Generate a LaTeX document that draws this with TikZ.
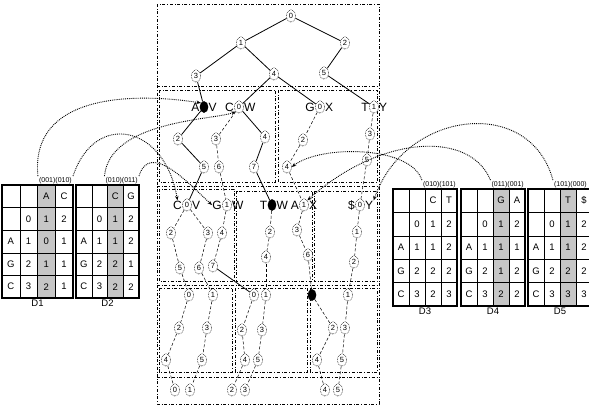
\documentclass[tikz,border=0pt]{standalone}
\usepackage{fontspec}
\setmainfont{Liberation Sans}
\usetikzlibrary{shapes.geometric,arrows.meta,positioning}

\tikzset{
  noeud/.style={ellipse, draw, densely dotted, line width=0.6pt, fill=white, inner sep=0pt,
    minimum width=9pt, minimum height=12.5pt, font=\fontsize{7.5}{7.5}\selectfont},
  noir/.style={noeud, solid, fill=black, minimum width=8pt, minimum height=11pt},
  lettre/.style={font=\fontsize{12}{12}\selectfont, inner sep=0.2pt},
  arete/.style={line width=0.8pt},
  aretep/.style={densely dashed, line width=0.5pt},
  bord/.style={dash dot, line width=0.7pt},
  lien/.style={densely dotted, line width=0.9pt, -{Stealth[length=4.5pt,width=3.5pt]}},
  cadre/.style={line width=1.8pt},
  fin/.style={line width=0.5pt},
  ombre/.style={fill=gray!45},
  case/.style={font=\fontsize{9.5}{9.5}\selectfont, inner sep=0pt},
  entete/.style={font=\fontsize{7}{7}\selectfont, anchor=south east, inner sep=1pt},
  pied/.style={font=\fontsize{9.5}{9.5}\selectfont, anchor=north, inner sep=1.5pt},
}

% tableau : nom, x, y, largeur, hauteur, ombre, en-tete, lignes
\newcommand{\grille}[8]{%
  \pgfmathsetmacro{\cw}{#4/4}%
  \pgfmathsetmacro{\rh}{#5/5}%
  \ifnum#6=1 \fill[ombre] ({#2+2*\cw},#3) rectangle ({#2+3*\cw},{#3+#5});\fi
  \foreach \k in {1,2,3} \draw[fin] ({#2+\k*\cw},#3) -- ({#2+\k*\cw},{#3+#5});
  \foreach \k in {1,...,4} \draw[fin] (#2,{#3+\k*\rh}) -- ({#2+#4},{#3+\k*\rh});
  \draw[cadre] (#2,#3) rectangle ({#2+#4},{#3+#5});
  \foreach \rg/\ua/\ub/\uc/\ud in {#8} {
    \foreach \v [count=\j] in {\ua,\ub,\uc,\ud}
      \node[case] (#1-\rg-\j) at ({#2+(\j-0.5)*\cw},{#3+(\rg-0.5)*\rh}) {\v};
  }
  \node[entete] (#1-h) at ({min(#2+#4,588)},#3) {#7};
  \node[pied] (#1-n) at ({#2+#4/2},{#3+#5}) {#1};
}

\begin{document}
\begin{tikzpicture}[x=1pt,y=-1pt]
\useasboundingbox (0,0) rectangle (589,410);

% Cadres
\draw[bord] (157,4) rectangle (379,404);
\draw[bord] (157,86) -- (379,86);
\draw[bord] (159,90) rectangle (275,182);
\draw[bord] (278,90) rectangle (377,182);
\draw[bord] (157,186) -- (379,186);
\draw[bord] (159,189) rectangle (234,281);
\draw[bord] (236,191) rectangle (312,281);
\draw[bord] (314,191) rectangle (377,281);
\draw[bord] (157,285) -- (379,285);
\draw[bord] (159,288) rectangle (232,372);
\draw[bord] (235,288) rectangle (307,372);
\draw[bord] (310,288) rectangle (377,372);
\draw[bord] (157,377) -- (379,377);

% Niveau 1
\node[noeud] (n0) at (291,16) {0};
\node[noeud] (n1) at (241,43) {1};
\node[noeud] (n2) at (345,43) {2};
\node[noeud] (n3) at (196,76) {3};
\node[noeud] (n4) at (274,74) {4};
\node[noeud] (n5) at (324,73) {5};

% Niveau 2
\node[noir] (bA) at (204,107) {};
\node[lettre, left=0pt of bA] (bAg) {A};
\node[lettre, right=0pt of bA] (bAd) {V};
\node[noeud] (bA1) at (178,139) {2};
\node[noeud] (bA2) at (204,167) {5};
\node[noeud] (bC) at (239,107) {0};
\node[lettre, left=0pt of bC] (bCg) {C};
\node[lettre, right=0pt of bC] (bCd) {W};
\node[noeud] (bC1) at (216,139) {3};
\node[noeud] (bC2) at (219,167) {6};
\node[noeud] (bC3) at (265,137) {4};
\node[noeud] (bC4) at (254,167) {7};
\node[noeud] (bG) at (320,107) {0};
\node[lettre, left=0pt of bG] (bGg) {G};
\node[lettre, right=0pt of bG] (bGd) {X};
\node[noeud] (bG1) at (303,140) {2};
\node[noeud] (bG2) at (287,167) {4};
\node[noeud] (bT) at (374,107) {1};
\node[lettre, left=0pt of bT] (bTg) {T};
\node[lettre, right=0pt of bT] (bTd) {Y};
\node[noeud] (bT1) at (370,134) {3};
\node[noeud] (bT2) at (367,160) {5};

% Niveau 3
\node[noeud] (cC) at (187,205) {0};
\node[lettre, left=0pt of cC] (cCg) {C};
\node[lettre, right=0pt of cC] (cCd) {V};
\node[noeud] (cC1) at (171,233) {2};
\node[noeud] (cC2) at (180,268) {5};
\node[noeud] (cC3) at (208,233) {3};
\node[noeud] (cC4) at (199,268) {6};
\node[noeud] (cG) at (227,205) {1};
\node[lettre, left=0pt of cG] (cGg) {G};
\node[lettre, right=0pt of cG] (cGd) {W};
\node[noeud] (cG1) at (222,233) {4};
\node[noeud] (cG2) at (213,266) {7};
\node[noir] (cT) at (272,205) {};
\node[lettre, left=0pt of cT] (cTg) {T};
\node[lettre, right=0pt of cT] (cTd) {W};
\node[noeud] (cT1) at (270,232) {2};
\node[noeud] (cT2) at (266,257) {4};
\node[noeud] (cA) at (304,205) {1};
\node[lettre, left=0pt of cA] (cAg) {A};
\node[lettre, right=0pt of cA] (cAd) {X};
\node[noeud] (cA1) at (297,230) {3};
\node[noeud] (cA2) at (308,255) {6};
\node[noeud] (cS) at (360,205) {0};
\node[lettre, left=0pt of cS] (cSg) {\$};
\node[lettre, right=0pt of cS] (cSd) {Y};
\node[noeud] (cS1) at (357,232) {1};
\node[noeud] (cS2) at (354,262) {2};

% Niveau 4
\node[noeud] (dL0) at (189,295) {0};
\node[noeud] (dL1) at (213,295) {1};
\node[noeud] (dL2) at (179,328) {2};
\node[noeud] (dL3) at (207,328) {3};
\node[noeud] (dL4) at (166,360) {4};
\node[noeud] (dL5) at (202,360) {5};
\node[noeud] (dM0) at (254,295) {0};
\node[noeud] (dM1) at (266,295) {1};
\node[noeud] (dM2) at (242,330) {2};
\node[noeud] (dM3) at (262,330) {3};
\node[noeud] (dM4) at (245,360) {4};
\node[noeud] (dM5) at (258,360) {5};
\node[noir] (dR0) at (312,295) {};
\node[noeud] (dR1) at (348,295) {1};
\node[noeud] (dR2) at (333,328) {2};
\node[noeud] (dR3) at (345,328) {3};
\node[noeud] (dR4) at (317,360) {4};
\node[noeud] (dR5) at (342,360) {5};

% Feuilles
\node[noeud] (e0) at (175,390) {0};
\node[noeud] (e1) at (190,390) {1};
\node[noeud] (e2) at (232,390) {2};
\node[noeud] (e3) at (245,390) {3};
\node[noeud] (e4) at (325,390) {4};
\node[noeud] (e5) at (338,390) {5};

% Aretes
\draw[arete] (n0) -- (n1);
\draw[arete] (n0) -- (n2);
\draw[arete] (n1) -- (n3);
\draw[arete] (n1) -- (n4);
\draw[arete] (n2) -- (n5);
\draw[arete] (n3) -- (bA);
\draw[arete] (n4) -- (bC);
\draw[arete] (n4) -- (bG);
\draw[arete] (n5) -- (bT);

\draw[arete] (bA) -- (bA1) -- (bA2);
\draw[aretep] (bC) -- (bC1) -- (bC2);
\draw[arete] (bC) -- (bC3) -- (bC4);
\draw[aretep] (bG) -- (bG1) -- (bG2);
\draw[aretep] (bT) -- (bT1) -- (bT2);

\draw[arete] (bA2) -- (cC);
\draw[aretep] (bC2) -- (cG);
\draw[arete] (bC4) -- (cT);
\draw[aretep] (bG2) -- (cA);
\draw[aretep] (bT2) -- (cS);

\draw[aretep] (cC) -- (cC1) -- (cC2);
\draw[aretep] (cC) -- (cC3) -- (cC4);
\draw[aretep] (cG) -- (cG1) -- (cG2);
\draw[aretep] (cT) -- (cT1) -- (cT2);
\draw[aretep] (cA) -- (cA1) -- (cA2);
\draw[aretep] (cS) -- (cS1) -- (cS2);

\draw[aretep] (cC2) -- (dL0);
\draw[aretep] (cC4) -- (dL1);
\draw[arete] (cG2) -- (dM0);
\draw[aretep] (cT2) -- (dM1);
\draw[aretep] (cA2) -- (dR0);
\draw[aretep] (cS2) -- (dR1);

\draw[aretep] (dL0) -- (dL2) -- (dL4) -- (e0);
\draw[aretep] (dL1) -- (dL3) -- (dL5) -- (e1);
\draw[aretep] (dM0) -- (dM2) -- (dM4) -- (e2);
\draw[aretep] (dM1) -- (dM3) -- (dM5) -- (e3);
\draw[aretep] (dR0) -- (dR2) -- (dR4) -- (e4);
\draw[aretep] (dR1) -- (dR3) -- (dR5) -- (e5);

% Tableaux
\grille{D1}{2}{185}{71}{113}{1}{(001)(010)}{1/{}/{}/A/C,2/{}/0/1/2,3/A/1/0/1,4/G/2/1/1,5/C/3/2/1}
\grille{D2}{76}{185}{63}{113}{1}{(010)(011)}{1/{}/{}/C/G,2/{}/0/1/2,3/A/1/1/2,4/G/2/2/1,5/C/3/2/2}
\grille{D3}{393}{189}{64}{117}{0}{(010)(101)}{1/{}/{}/C/T,2/{}/0/1/2,3/A/1/1/2,4/G/2/2/2,5/C/3/2/3}
\grille{D4}{461}{189}{64}{117}{1}{(011)(001)}{1/{}/{}/G/A,2/{}/0/1/2,3/A/1/1/1,4/G/2/1/2,5/C/3/2/2}
\grille{D5}{528}{189}{64}{117}{1}{(101)(000)}{1/{}/{}/T/\$,2/{}/0/1/2,3/A/1/1/2,4/G/2/2/2,5/C/3/3/3}

% Liens pointilles
\draw[lien] (D1-h.north west) .. controls (30,95) and (130,92) .. (bA.north west);
\draw[lien] (D1-h.north east) .. controls (95,110) and (165,125) .. (cCg.north);
\draw[lien] (D2-h.north west) .. controls (110,120) and (215,120) .. (bC.south west);
\draw[lien] (D2-h.north east) .. controls (150,140) and (190,185) .. (cGg.west);
\draw[lien] (D3-h.north west) .. controls (410,145) and (320,145) .. (bG2.east);
\draw[lien] (D4-h.north west) .. controls (470,130) and (380,135) .. (cA.north east);
\draw[lien] (D5-h.north west) .. controls (530,95) and (405,110) .. (cSd.north east);

\end{tikzpicture}
\end{document}
